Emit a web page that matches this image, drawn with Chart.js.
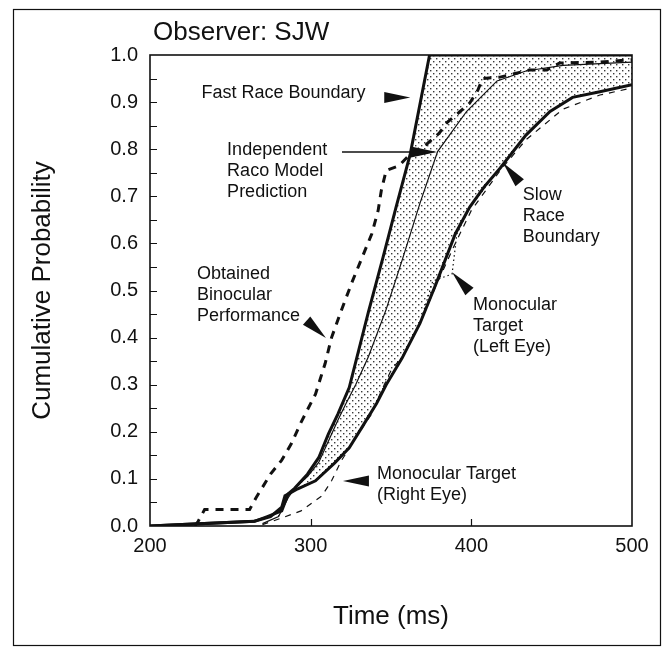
<!DOCTYPE html>
<html>
<head>
<meta charset="utf-8">
<title>Observer: SJW</title>
<script src="https://cdn.jsdelivr.net/npm/chart.js@4.4.1/dist/chart.umd.min.js"></script>
<style>
  body { margin: 0; background: #fff; }
  #wrap { width: 668px; height: 648px; position: relative; }
</style>
</head>
<body>
<div id="wrap"><canvas id="rt-chart"></canvas></div>
<script>
// cumulative RT distributions (time in ms, probability)
const fastTimes = [200, 220, 265, 273, 282, 286, 290, 298, 305, 311, 317, 324, 336, 345, 353, 362, 374, 500];
const fastProbs = [0, 0.003, 0.01, 0.02, 0.032, 0.068, 0.08, 0.11, 0.145, 0.195, 0.238, 0.294, 0.455, 0.57, 0.675, 0.79, 1.0, 1.0];

const slowTimes = [200, 220, 265, 275, 282, 284, 292, 303, 315, 324, 332, 341, 347, 357, 368, 378, 390, 399, 408, 418, 434, 449, 463, 480, 500];
const slowProbs = [0, 0.003, 0.01, 0.02, 0.04, 0.064, 0.079, 0.096, 0.134, 0.166, 0.21, 0.26, 0.3, 0.357, 0.43, 0.514, 0.62, 0.677, 0.72, 0.76, 0.83, 0.88, 0.91, 0.922, 0.937];

const raceTimes = [270, 280, 286, 290, 298, 305, 311, 317, 322, 328, 336, 347, 357, 368, 379, 397, 416, 434, 457, 500];
const raceProbs = [0.005, 0.02, 0.06, 0.08, 0.105, 0.135, 0.18, 0.225, 0.26, 0.3, 0.36, 0.46, 0.565, 0.685, 0.795, 0.88, 0.945, 0.966, 0.978, 0.985];

const binoTimes = [228, 230, 234, 262, 266, 275, 282, 288, 294, 303, 309, 313, 319, 326, 332, 338, 342, 344, 347, 355, 362, 372, 380, 385, 393, 399, 404, 407, 418, 436, 447, 455, 480, 500];
const binoProbs = [0, 0.01, 0.035, 0.035, 0.06, 0.11, 0.14, 0.175, 0.22, 0.28, 0.345, 0.4, 0.457, 0.52, 0.57, 0.62, 0.67, 0.713, 0.755, 0.765, 0.79, 0.81, 0.834, 0.857, 0.88, 0.898, 0.925, 0.95, 0.953, 0.968, 0.968, 0.983, 0.985, 0.99];

const rightTimes = [270, 282, 294, 307, 313, 319, 328, 338, 344, 350, 357, 368, 378, 390, 400, 418, 434, 457, 480, 500];
const rightProbs = [0.003, 0.017, 0.032, 0.064, 0.096, 0.138, 0.187, 0.238, 0.287, 0.33, 0.36, 0.43, 0.51, 0.6, 0.67, 0.755, 0.82, 0.885, 0.915, 0.93];

const leftTimes = [280, 284, 292, 303, 315, 324, 332, 341, 347, 357, 368, 376, 388, 391, 399, 418, 434, 449, 463, 480, 500];
const leftProbs = [0.02, 0.064, 0.079, 0.096, 0.134, 0.166, 0.21, 0.26, 0.3, 0.357, 0.43, 0.52, 0.535, 0.62, 0.677, 0.76, 0.83, 0.88, 0.91, 0.922, 0.937];

const xTicks = [200, 300, 400, 500];
const yTicks = [0, 0.1, 0.2, 0.3, 0.4, 0.5, 0.6, 0.7, 0.8, 0.9, 1.0];

// labels with arrowheads (anchor in data units, arrow angle in degrees)
const notes = [
  { lines: ['Fast Race Boundary'], t: 232, p: 0.919, tipT: 362, tipP: 0.91, angle: 0 },
  { lines: ['Independent', 'Raco Model', 'Prediction'], t: 248, p: 0.798, tipT: 378.6, tipP: 0.794, angle: 0, leader: 319.5 },
  { lines: ['Obtained', 'Binocular', 'Performance'], t: 229.3, p: 0.535, tipT: 309.5, tipP: 0.399, angle: 42 },
  { lines: ['Slow', 'Race', 'Boundary'], t: 432, p: 0.703, tipT: 419.7, tipP: 0.771, angle: -130 },
  { lines: ['Monocular', 'Target', '(Left Eye)'], t: 401, p: 0.469, tipT: 388, tipP: 0.539, angle: -132 },
  { lines: ['Monocular Target', '(Right Eye)'], t: 341.3, p: 0.11, tipT: 320.1, tipP: 0.0955, angle: 180 }
];

const FONT = '"Liberation Sans", Arial, Helvetica, sans-serif';
const INK = '#111';

function toPoints(ts, ps) {
  return ts.map((t, i) => ({ x: t, y: ps[i] }));
}

let canvas = document.getElementById('rt-chart');
let ctx = canvas.getContext('2d');

// stipple used for the area between the race bounds
let tile = document.createElement('canvas');
tile.width = 6;
tile.height = 6;
let tctx = tile.getContext('2d');
tctx.fillStyle = '#3a3a3a';
tctx.fillRect(1, 1, 1.4, 1.4);
tctx.fillRect(4, 4, 1.4, 1.4);
let stipple = ctx.createPattern(tile, 'repeat');

function arrowHead(c, x, y, angle, len, half) {
  const a = angle * Math.PI / 180;
  c.save();
  c.translate(x, y);
  c.rotate(a);
  c.beginPath();
  c.moveTo(0, 0);
  c.lineTo(-len, -half);
  c.lineTo(-len, half);
  c.closePath();
  c.fill();
  c.restore();
}

const decorPlugin = {
  id: 'decor',
  afterDraw(chart) {
    const c = chart.ctx;
    const { left, right, top, bottom } = chart.chartArea;
    const xs = chart.scales.x;
    const ys = chart.scales.y;
    c.save();
    c.strokeStyle = INK;
    c.fillStyle = INK;

    // outer frame
    c.lineWidth = 1.2;
    c.strokeRect(13.5, 9.5, 647, 636);

    // plot box
    c.lineWidth = 1.6;
    c.strokeRect(left, top, right - left, bottom - top);

    // inward ticks
    c.lineWidth = 1.2;
    c.beginPath();
    for (let v = 0.05; v < 1; v += 0.05) {
      const y = Math.round(ys.getPixelForValue(v)) + 0.5;
      c.moveTo(left, y);
      c.lineTo(left + 7, y);
    }
    xTicks.slice(1, -1).forEach(v => {
      const x = Math.round(xs.getPixelForValue(v)) + 0.5;
      c.moveTo(x, bottom);
      c.lineTo(x, bottom - 7);
    });
    c.stroke();

    // title and x axis title
    c.font = '26px ' + FONT;
    c.textBaseline = 'middle';
    c.textAlign = 'left';
    c.fillText('Observer: SJW', left + 3, 33);
    c.textAlign = 'center';
    c.fillText('Time (ms)', (left + right) / 2, 617);

    // annotations
    c.font = '18px ' + FONT;
    c.textAlign = 'left';
    notes.forEach(n => {
      const x0 = xs.getPixelForValue(n.t);
      const y0 = ys.getPixelForValue(n.p);
      n.lines.forEach((s, i) => c.fillText(s, x0, y0 + i * 21));
      const tx = xs.getPixelForValue(n.tipT);
      const ty = ys.getPixelForValue(n.tipP);
      if (n.leader) {
        c.lineWidth = 1.5;
        c.beginPath();
        c.moveTo(xs.getPixelForValue(n.leader), ty);
        c.lineTo(tx - 20, ty);
        c.stroke();
      }
      arrowHead(c, tx, ty, n.angle, 26, 5.5);
    });
    c.restore();
  }
};

let rtChart = new Chart(canvas, {
  type: 'line',
  data: {
    datasets: [
      { label: 'Fast Race Boundary', data: toPoints(fastTimes, fastProbs), borderColor: INK, borderWidth: 3,
        backgroundColor: stipple, fill: 1 },
      { label: 'Slow Race Boundary', data: toPoints(slowTimes, slowProbs), borderColor: INK, borderWidth: 3, fill: false },
      { label: 'Independent Race Model Prediction', data: toPoints(raceTimes, raceProbs), borderColor: INK, borderWidth: 1.2, fill: false },
      { label: 'Obtained Binocular Performance', data: toPoints(binoTimes, binoProbs), borderColor: INK, borderWidth: 3,
        borderDash: [8, 7], fill: false },
      { label: 'Monocular Target (Right Eye)', data: toPoints(rightTimes, rightProbs), borderColor: INK, borderWidth: 1.2,
        borderDash: [6, 6], fill: false },
      { label: 'Monocular Target (Left Eye)', data: toPoints(leftTimes, leftProbs), borderColor: INK, borderWidth: 1.2,
        borderDash: [1.5, 3], fill: false }
    ]
  },
  options: {
    responsive: true,
    maintainAspectRatio: false,
    animation: false,
    layout: { padding: { top: 55, right: 36, left: 0, bottom: 0 } },
    elements: { point: { radius: 0 }, line: { tension: 0 } },
    plugins: {
      legend: { display: false },
      tooltip: { enabled: false },
      filler: { drawTime: 'beforeDatasetsDraw' }
    },
    scales: {
      x: {
        type: 'linear',
        min: 200,
        max: 500,
        afterFit: s => { s.height = 122; },
        afterBuildTicks: s => { s.ticks = xTicks.map(v => ({ value: v })); },
        grid: { display: false, drawTicks: false },
        border: { display: false },
        ticks: { padding: 8, color: INK, font: { family: FONT, size: 20 } },
        title: { display: false }
      },
      y: {
        min: 0,
        max: 1,
        afterFit: s => { s.width = 150; },
        afterBuildTicks: s => { s.ticks = yTicks.map(v => ({ value: v })); },
        grid: { display: false, drawTicks: false },
        border: { display: false },
        ticks: { padding: 12, color: INK, font: { family: FONT, size: 20 }, callback: v => v.toFixed(1) },
        title: { display: true, text: 'Cumulative Probability', color: INK, font: { family: FONT, size: 26 },
          padding: { top: 27 } }
      }
    }
  },
  plugins: [decorPlugin]
});
</script>
</body>
</html>
